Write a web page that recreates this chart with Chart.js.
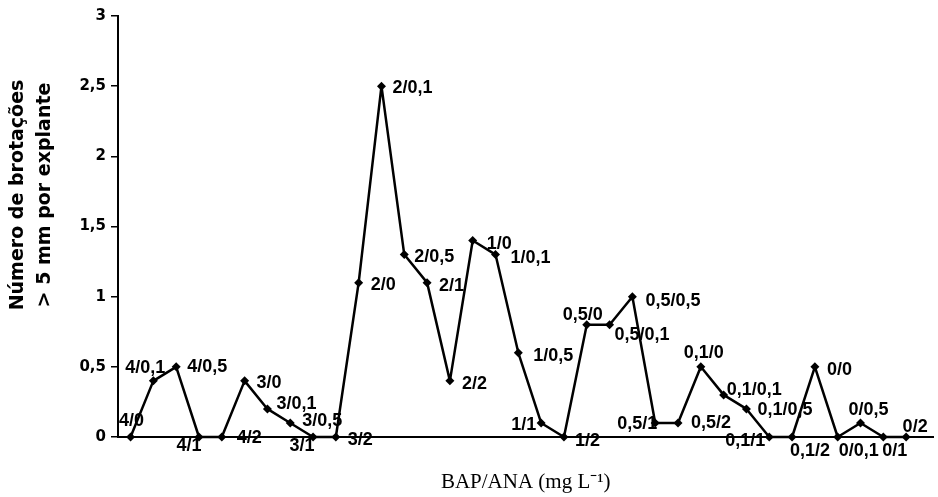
<!DOCTYPE html>
<html>
<head>
<meta charset="utf-8">
<script src="https://cdn.jsdelivr.net/npm/chart.js@4/dist/chart.umd.min.js"></script>
<style>
    body { margin: 0; background: #fff; }
    #wrap { width: 938px; height: 497px; }
</style>
</head>
<body>
<div id="wrap"><canvas id="lineChart"></canvas></div>
<script>
"use strict";

// BAP/ANA combinations (mg/L), in plotting order
var combos = ["4/0", "4/0,1", "4/0,5", "4/1", "4/2",
    "3/0", "3/0,1", "3/0,5", "3/1", "3/2",
    "2/0", "2/0,1", "2/0,5", "2/1", "2/2",
    "1/0", "1/0,1", "1/0,5", "1/1", "1/2",
    "0,5/0", "0,5/0,1", "0,5/0,5", "0,5/1", "0,5/2",
    "0,1/0", "0,1/0,1", "0,1/0,5", "0,1/1", "0,1/2",
    "0/0", "0/0,1", "0/0,5", "0/1", "0/2"];

// Shoots > 5 mm per explant
var shoots = [0, 0.4, 0.5, 0, 0,
    0.4, 0.2, 0.1, 0, 0,
    1.1, 2.5, 1.3, 1.1, 0.4,
    1.4, 1.3, 0.6, 0.1, 0,
    0.8, 0.8, 1.0, 0.1, 0.1,
    0.5, 0.3, 0.2, 0, 0,
    0.5, 0, 0.1, 0, 0];

var yTickLabels = ["0", "0,5", "1", "1,5", "2", "2,5", "3"];

// Where each combo label sits next to its point: [dx, dy, align]
var labelPlace = [
    [1, -16, "center"], [-8, -13, "center"], [11, 0, "left"], [-10, 9, "center"], [15, 1, "left"],
    [12, 2, "left"], [9, -5, "left"], [12, -2, "left"], [-11, 9, "center"], [12, 3, "left"],
    [12, 2, "left"], [11, 2, "left"], [10, 2, "left"], [12, 3, "left"], [12, 3, "left"],
    [14, 3, "left"], [15, 3, "left"], [15, 3, "left"], [-5, 2, "right"], [11, 4, "left"],
    [-4, -10, "center"], [5, 10, "left"], [13, 4, "left"], [2, 1, "right"], [13, 0, "left"],
    [3, -14, "center"], [3, -5, "left"], [11, 1, "left"], [-4, 4, "right"], [-2, 14, "left"],
    [12, 3, "left"], [1, 14, "left"], [8, -13, "center"], [-1, 14, "left"], [9, -10, "center"]
];

var black = "#000";

// Writes the combo name beside every point
var pointLabels = {
    id: "pointLabels",
    afterDatasetsDraw: function(chart) {
        var ctx = chart.ctx;
        var pts = chart.getDatasetMeta(0).data;
        ctx.save();
        ctx.fillStyle = black;
        ctx.font = "bold 18px 'Liberation Sans', Arial, sans-serif";
        ctx.textBaseline = "middle";
        for(var i = 0; i < pts.length; i++) {
            var p = labelPlace[i];
            ctx.textAlign = p[2];
            ctx.fillText(combos[i], pts[i].x + p[0], pts[i].y + p[1]);
        }
        ctx.restore();
    }
};

// Two-line rotated title for the value axis
var yTitle = {
    id: "yTitle",
    afterDraw: function(chart) {
        var ctx = chart.ctx;
        ctx.save();
        ctx.fillStyle = black;
        ctx.font = "bold 19px 'DejaVu Sans', sans-serif";
        ctx.textAlign = "center";
        ctx.textBaseline = "middle";
        ctx.translate(0, 195);
        ctx.rotate(-Math.PI / 2);
        ctx.fillText("Número de brotações", 0, 18);
        ctx.fillText("> 5 mm por explante", 0, 45);
        ctx.restore();
    }
};

function drawLineChart() {
    var ctx = document.getElementById("lineChart");
    new Chart(ctx, {
        type: "line",
        data: {
            labels: combos,
            datasets: [{
                data: shoots.map(function(v, i) { return {x: i, y: v}; }),
                borderColor: black,
                borderWidth: 2.5,
                borderJoinStyle: "round",
                backgroundColor: black,
                pointStyle: "rectRot",
                pointRadius: 4.5,
                pointBorderWidth: 0,
                pointBackgroundColor: black,
                tension: 0,
                clip: false
            }]
        },
        options: {
            responsive: true,
            maintainAspectRatio: false,
            animation: false,
            layout: { padding: { top: 16, right: 3, left: 0, bottom: 0 } },
            plugins: {
                legend: { display: false },
                tooltip: { enabled: false }
            },
            scales: {
                x: {
                    type: "linear",
                    min: -0.55,
                    max: 35.2,
                    grid: { display: false },
                    border: { color: black, width: 2 },
                    ticks: { display: false },
                    title: {
                        display: true,
                        text: "BAP/ANA (mg L⁻¹)",
                        color: black,
                        font: { family: "'Liberation Serif', 'Times New Roman', serif", size: 21 },
                        padding: { top: 0, bottom: 2 }
                    },
                    afterFit: function(s) { s.height = 60; }
                },
                y: {
                    min: 0,
                    max: 3,
                    ticks: {
                        stepSize: 0.5,
                        color: black,
                        padding: 5,
                        font: { family: "'DejaVu Sans', sans-serif", size: 15, weight: "bold" },
                        callback: function(v) { return yTickLabels[Math.round(v * 2)]; }
                    },
                    grid: {
                        drawOnChartArea: false,
                        drawTicks: true,
                        tickLength: 7,
                        color: black,
                        lineWidth: 1.5
                    },
                    border: { color: black, width: 2 },
                    afterFit: function(s) { s.width = 118; }
                }
            }
        },
        plugins: [pointLabels, yTitle]
    });
}

function init() {
    drawLineChart();
}

window.onload = init;
</script>
</body>
</html>
